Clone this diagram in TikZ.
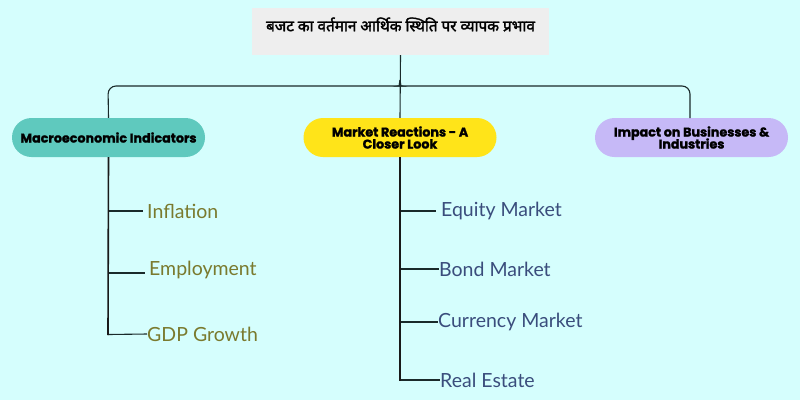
\documentclass[tikz,border=0pt]{standalone}
\usepackage{fontspec}
\setmainfont{Lato}
\newfontfamily\hdfont[FakeBold=1.5]{Poppins}
\newfontfamily\devfont[Script=Devanagari,FakeBold=2.2]{Noto Sans}
\definecolor{bgc}{HTML}{D5FEFD}
\definecolor{titlec}{HTML}{EEEEEE}
\definecolor{tealc}{HTML}{5FC9BE}
\definecolor{yelc}{HTML}{FFE419}
\definecolor{lavc}{HTML}{C6B9F7}
\definecolor{olivec}{HTML}{7A7A2E}
\definecolor{bluec}{HTML}{3A4D7C}
\definecolor{linec}{HTML}{1A2A2A}
\begin{document}
\begin{tikzpicture}[x=1pt,y=-1pt,
  conn/.style={draw=linec,line width=1.1pt},
  trunk/.style={draw=black!90,line width=1.6pt},
  hdbox/.style={rounded corners=19.5pt,minimum width=193pt,minimum height=39pt,align=center,inner sep=2pt,font=\hdfont\bfseries\fontsize{12.7}{14}\selectfont},
  leafa/.style={anchor=west,inner sep=0pt,text=olivec,font=\fontsize{19.5}{21}\selectfont},
  leafb/.style={anchor=west,inner sep=0pt,text=bluec,font=\fontsize{19.5}{21}\selectfont}]
\fill[bgc] (0,0) rectangle (800,400);
\useasboundingbox (0,0) rectangle (800,400);
\node[fill=titlec,minimum width=297pt,minimum height=47pt,inner sep=0pt] (title) at (400.5,31.5) {};
\node[font=\devfont\fontsize{15.3}{17}\selectfont] (titletext) at (400.5,24.5) {बजट का वर्तमान आर्थिक स्थिति पर व्यापक प्रभाव};
\node[hdbox,fill=tealc] (m) at (108.5,137.5) {Macroeconomic Indicators};
\node[hdbox,fill=yelc] (r) at (400,137.5) {Market Reactions - A\\[-2pt]Closer Look};
\node[hdbox,fill=lavc] (b) at (691.5,137.5) {Impact on Businesses \&\\[-2pt]Industries};
% connectors from title
\draw[conn] (title.south) -- (r.north);
\draw[conn,rounded corners=8pt] (400,80) to[out=-90,in=0] (394,86) -- (108,86) -- (m.north);
\draw[conn,rounded corners=8pt] (400,80) to[out=-90,in=180] (406,86) -- (690,86) -- (690,118);
% left leaves
\node[leafa] (l1) at (147,211) {Inflation};
\node[leafa] (l2) at (149,270) {Employment};
\node[leafa] (l3) at (147,334) {GDP Growth};
\draw[conn] (108,211) -- (143,211);
\draw[conn] (108,273) -- (145,273);
\draw[conn] (108,334.5) -- (l3.west);
\draw[trunk] (m.south) -- (108,335);
% right leaves
\node[leafb] (r1) at (441,211) {Equity Market};
\node[leafb] (r2) at (439,269) {Bond Market};
\node[leafb] (r3) at (438,322) {Currency Market};
\node[leafb] (r4) at (440,380) {Real Estate};
\draw[conn] (400,211) -- (436,211);
\draw[conn] (400,269) -- (r2.west);
\draw[conn] (400,322) -- (r3.west);
\draw[conn] (400,380) -- (r4.west);
\draw[trunk] (r.south) -- (400,380.5);
\end{tikzpicture}
\end{document}
